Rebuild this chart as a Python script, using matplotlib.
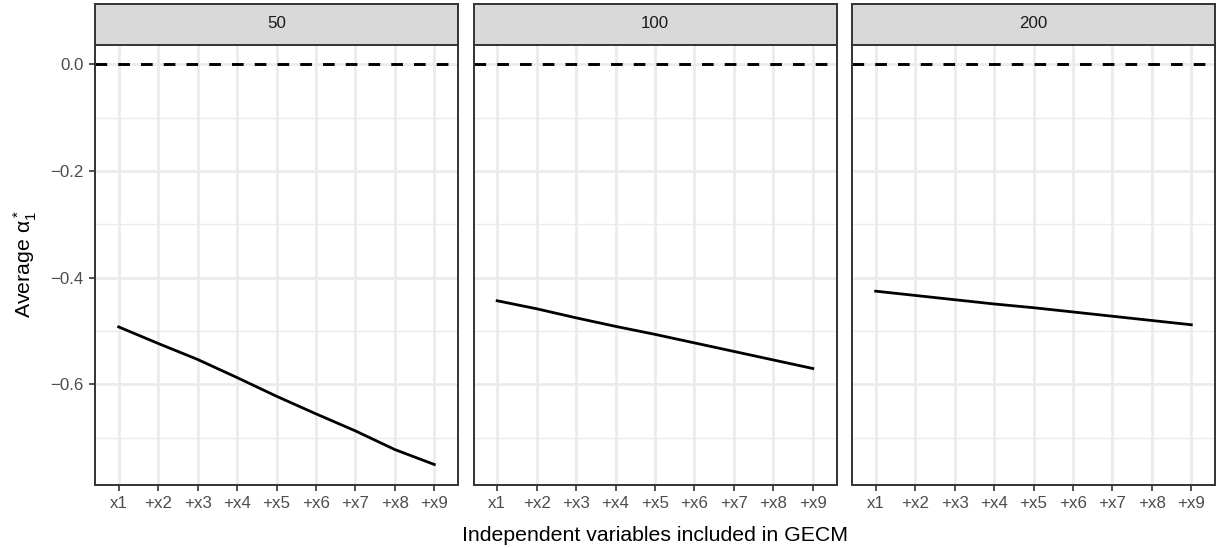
import matplotlib
matplotlib.use('Agg')
import matplotlib.pyplot as plt

plt.rcParams['font.family'] = ['Liberation Sans', 'DejaVu Sans']
plt.rcParams['mathtext.fontset'] = 'custom'
plt.rcParams['mathtext.rm'] = 'Liberation Sans'
plt.rcParams['mathtext.it'] = 'Liberation Sans:italic'

# data
panels = ['50', '100', '200']
tick_labels = ['x1', '+x2', '+x3', '+x4', '+x5', '+x6', '+x7', '+x8', '+x9']
alpha_50 = [-0.492, -0.523, -0.553, -0.587, -0.622, -0.655, -0.687, -0.722, -0.750]
alpha_100 = [-0.443, -0.458, -0.475, -0.491, -0.506, -0.522, -0.538, -0.554, -0.570]
alpha_200 = [-0.425, -0.433, -0.441, -0.449, -0.456, -0.464, -0.472, -0.480, -0.488]
series = [alpha_50, alpha_100, alpha_200]
y_ticks = [0.0, -0.2, -0.4, -0.6]
y_minor = [-0.1, -0.3, -0.5, -0.7]

W, H = 1220, 548
fig = plt.figure(figsize=(W / 100, H / 100), dpi=100)

lefts = [95, 473.5, 852]
pw = 363
top_px, bot_px = 44.5, 484.5
strip_h = 41

x = list(range(1, len(tick_labels) + 1))
ymin, ymax = -0.7875, 0.0375

for i, (name, vals) in enumerate(zip(panels, series)):
    ax = fig.add_axes([lefts[i] / W, 1 - bot_px / H, pw / W, (bot_px - top_px) / H])
    ax.set_xlim(0.4, len(x) + 0.6)
    ax.set_ylim(ymin, ymax)
    for yv in y_minor:
        ax.axhline(yv, color='#ebebeb', lw=1.0, zorder=0)
    for yv in y_ticks:
        ax.axhline(yv, color='#ebebeb', lw=2.0, zorder=0)
    for xv in x:
        ax.axvline(xv, color='#ebebeb', lw=2.0, zorder=0)
    ax.axhline(0, color='black', lw=2.1, ls=(0, (4, 3.8)), zorder=2)
    ax.plot(x, vals, color='black', lw=2.0, zorder=3)

    ax.set_xticks(x)
    ax.set_xticklabels(tick_labels)
    ax.set_yticks(y_ticks)
    if i == 0:
        ax.set_yticklabels(['0.0', '\u22120.2', '\u22120.4', '\u22120.6'])
        ax.set_ylabel(r'Average $\mathrm{\alpha}_1^*$', fontsize=15.3, labelpad=8)
    else:
        ax.tick_params(axis='y', left=False, labelleft=False)
    ax.tick_params(colors='#333333', length=4.5, width=1.2, labelsize=12.2,
                   labelcolor='#4d4d4d', pad=3.5)
    for sp in ax.spines.values():
        sp.set_color('#333333')
        sp.set_linewidth(1.4)

    # facet strip
    sax = fig.add_axes([lefts[i] / W, 1 - top_px / H, pw / W, strip_h / H])
    sax.set_facecolor('#d9d9d9')
    sax.set_xticks([])
    sax.set_yticks([])
    for sp in sax.spines.values():
        sp.set_color('#333333')
        sp.set_linewidth(1.4)
    sax.text(0.5, 0.5, name, ha='center', va='center', fontsize=12.2, color='#1a1a1a',
             transform=sax.transAxes)

fig.text((lefts[0] + lefts[2] + pw) / 2 / W, 1 - 545 / H, 'Independent variables included in GECM',
         ha='center', va='bottom', fontsize=15.3)

fig.savefig('out.png', dpi=100)
